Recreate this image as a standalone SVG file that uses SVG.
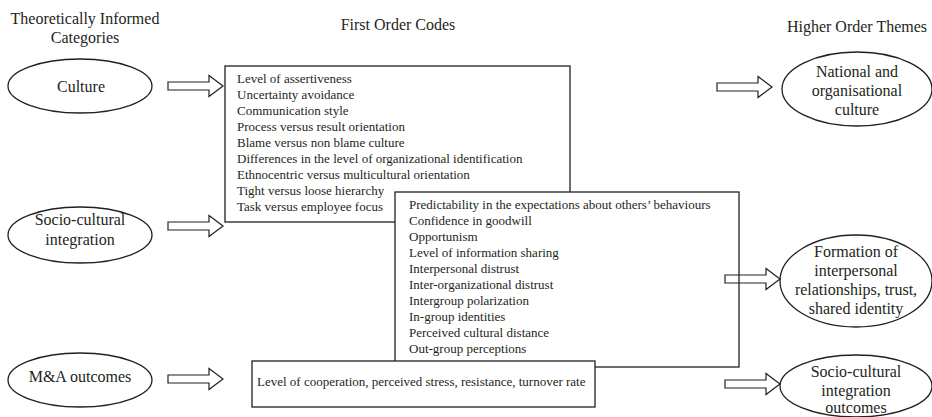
<svg xmlns="http://www.w3.org/2000/svg" width="932" height="417" viewBox="0 0 932 417" font-family="Liberation Serif, Times New Roman, DejaVu Serif, serif">
<style>
  text { fill: #231f20; }
  .hdr { font-size: 16px; text-anchor: middle; }
  .el { font-size: 16px; text-anchor: middle; }
  .bx { font-size: 13px; }
  .shape { fill: #ffffff; stroke: #231f20; stroke-width: 1.3; }
  .arrow { fill: #ffffff; stroke: #231f20; stroke-width: 1.2; stroke-linejoin: miter; }
  .arrow-open { fill: none; stroke: #231f20; stroke-width: 1.2; stroke-linejoin: miter; }
</style>
<defs>
  <path id="blockArrow" d="M0,-4 H41 V-10.5 L55,0 L41,10.5 V4 H0 Z"/>
</defs>
<rect width="932" height="417" fill="#ffffff"/>

<g id="headers">
  <text class="hdr" x="85" y="24">Theoretically Informed</text>
  <text class="hdr" x="85" y="43">Categories</text>
  <text class="hdr" x="398" y="30">First Order Codes</text>
  <text class="hdr" x="857" y="32">Higher Order Themes</text>
</g>

<g id="node-culture">
  <ellipse class="shape" cx="80" cy="86" rx="72" ry="27"/>
  <text class="el" x="81" y="92">Culture</text>
</g>
<g id="node-socio-cultural-integration">
  <ellipse class="shape" cx="80" cy="235" rx="72" ry="28"/>
  <text class="el" x="80" y="225">Socio-cultural</text>
  <text class="el" x="80" y="245">integration</text>
</g>
<g id="node-ma-outcomes">
  <ellipse class="shape" cx="80" cy="380" rx="72" ry="27"/>
  <text class="el" x="80" y="382">M&amp;A outcomes</text>
</g>

<g id="node-codes-culture">
  <rect class="shape" x="225" y="66" width="345" height="156"/>
  <text class="bx" x="237" y="83">Level of assertiveness</text>
  <text class="bx" x="237" y="99">Uncertainty avoidance</text>
  <text class="bx" x="237" y="115">Communication style</text>
  <text class="bx" x="237" y="131">Process versus result orientation</text>
  <text class="bx" x="237" y="147">Blame versus non blame culture</text>
  <text class="bx" x="237" y="163">Differences in the level of organizational identification</text>
  <text class="bx" x="237" y="179">Ethnocentric versus multicultural orientation</text>
  <text class="bx" x="237" y="195">Tight versus loose hierarchy</text>
  <text class="bx" x="237" y="211">Task versus employee focus</text>
</g>
<g id="node-codes-socio">
  <rect class="shape" x="395" y="192" width="344" height="175"/>
  <text class="bx" x="409" y="209">Predictability in the expectations about others’ behaviours</text>
  <text class="bx" x="409" y="225">Confidence in goodwill</text>
  <text class="bx" x="409" y="241">Opportunism</text>
  <text class="bx" x="409" y="257">Level of information sharing</text>
  <text class="bx" x="409" y="273">Interpersonal distrust</text>
  <text class="bx" x="409" y="289">Inter-organizational distrust</text>
  <text class="bx" x="409" y="305">Intergroup polarization</text>
  <text class="bx" x="409" y="321">In-group identities</text>
  <text class="bx" x="409" y="337">Perceived cultural distance</text>
  <text class="bx" x="409" y="353">Out-group perceptions</text>
</g>
<g id="node-codes-outcomes">
  <rect class="shape" x="252" y="361" width="343" height="46"/>
  <text class="bx" x="257" y="386">Level of cooperation, perceived stress, resistance, turnover rate</text>
</g>

<g id="node-national-culture">
  <ellipse class="shape" cx="857" cy="89" rx="75" ry="37"/>
  <text class="el" x="857" y="77">National and</text>
  <text class="el" x="857" y="96">organisational</text>
  <text class="el" x="857" y="115">culture</text>
</g>
<g id="node-formation">
  <ellipse class="shape" cx="856" cy="281" rx="76" ry="46"/>
  <text class="el" x="856" y="257">Formation of</text>
  <text class="el" x="856" y="276">interpersonal</text>
  <text class="el" x="856" y="295">relationships, trust,</text>
  <text class="el" x="856" y="314">shared identity</text>
</g>
<g id="node-sci-outcomes">
  <ellipse class="shape" cx="856" cy="386" rx="76" ry="31"/>
  <text class="el" x="856" y="377">Socio-cultural</text>
  <text class="el" x="856" y="396">integration</text>
  <text class="el" x="856" y="413">outcomes</text>
</g>

<g id="connectors">
  <use href="#blockArrow" class="arrow" x="168" y="86"/>
  <use href="#blockArrow" class="arrow" x="168" y="226"/>
  <use href="#blockArrow" class="arrow" x="168" y="379"/>
  <use href="#blockArrow" class="arrow" x="717" y="87"/>
  <use href="#blockArrow" class="arrow-open" x="725" y="279"/>
  <use href="#blockArrow" class="arrow" x="725" y="384"/>
</g>
</svg>
